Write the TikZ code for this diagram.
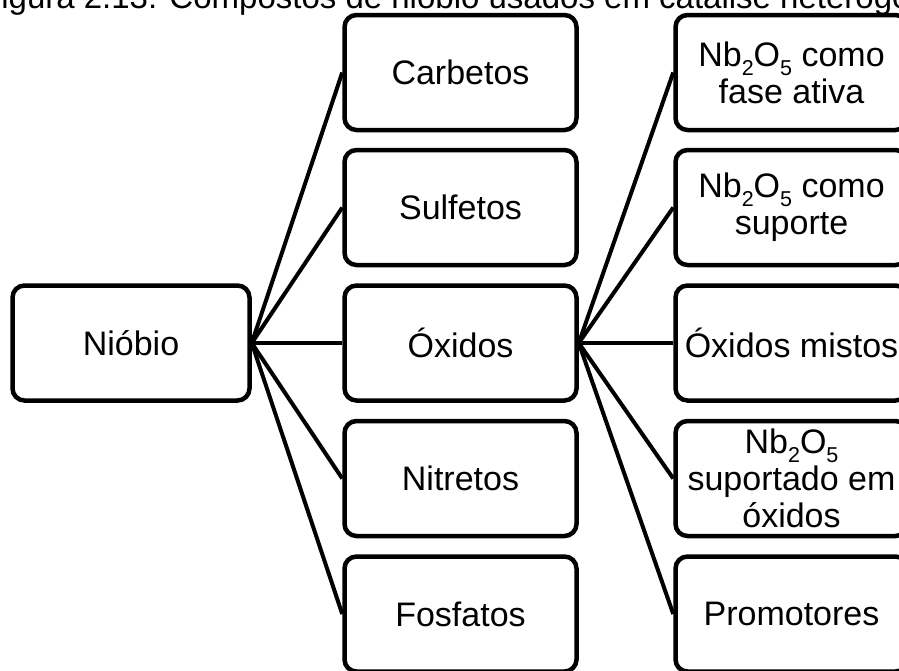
\documentclass[tikz,border=0pt]{standalone}
\usepackage{fontspec}
\setmainfont{Liberation Sans}
\newcommand\nbsub[1]{\raisebox{-9pt}{\fontsize{21.5}{21.5}\selectfont #1}}
\begin{document}
\begin{tikzpicture}[x=1pt,y=-1pt,
  every node/.style={font=\fontsize{34}{37}\selectfont},
  boxnode/.style={draw, line width=4.5pt, rounded corners=12pt, inner sep=0pt,
    minimum width=232pt, minimum height=115pt, align=center},
  conn/.style={line width=4pt}]
\useasboundingbox (0,0) rectangle (899,670);
\node[anchor=base west, inner sep=0pt, font=\fontsize{33}{36}\selectfont] (title) at (-19,8) {Figura 2.13: Compostos de nióbio usados em catálise heterogênea};
\node[boxnode, minimum width=237pt] (nio) at (131,343) {Nióbio};
\node[boxnode] (car) at (460.5,72.5) {Carbetos};
\node[boxnode] (sul) at (460.5,207.5) {Sulfetos};
\node[boxnode] (oxi) at (460.5,343) {Óxidos};
\node[boxnode] (nit) at (460.5,478.5) {Nitretos};
\node[boxnode] (fos) at (460.5,614) {Fosfatos};
\node[boxnode] (fa) at (791.5,72.5) {Nb\nbsub{2}O\nbsub{5} como\\fase ativa};
\node[boxnode] (su) at (791.5,207.5) {Nb\nbsub{2}O\nbsub{5} como\\suporte};
\node[boxnode] (mi) at (791.5,343) {Óxidos mistos};
\node[boxnode] (so) at (791.5,478.5) {Nb\nbsub{2}O\nbsub{5}\\suportado em\\óxidos};
\node[boxnode] (pr) at (791.5,614) {Promotores};
\foreach \t in {car,sul,oxi,nit,fos} \draw[conn] (nio.east) -- (\t.west);
\foreach \t in {fa,su,mi,so,pr} \draw[conn] (oxi.east) -- (\t.west);
\end{tikzpicture}
\end{document}
